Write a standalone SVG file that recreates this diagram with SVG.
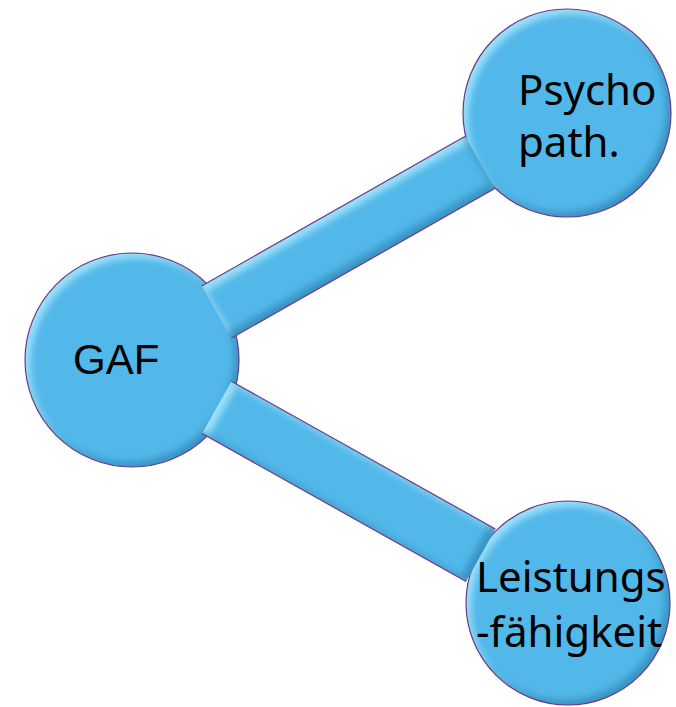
<svg xmlns="http://www.w3.org/2000/svg" width="676" height="707" viewBox="0 0 676 707">
  <style>
    .ball { fill: #52b8ea; filter: url(#bevel); }
    .rim { fill: none; stroke: #6b3a8c; stroke-width: 1.2; }
    .lbl { fill: #000000; font-family: "Noto Sans", "Open Sans", sans-serif; font-size: 42px; }
    .lbl-gaf { fill: #000000; font-family: "Liberation Sans", Arial, sans-serif; font-size: 42px; }
  </style>
  <defs>
    <!-- soft bevel: light inner rim top-left, darker inner rim bottom-right -->
    <filter id="bevel" x="-10%" y="-10%" width="120%" height="120%" color-interpolation-filters="sRGB">
      <feGaussianBlur in="SourceAlpha" stdDeviation="3.5" result="blur"/>
      <feOffset in="blur" dx="5" dy="5" result="shiftDown"/>
      <feComposite in="SourceAlpha" in2="shiftDown" operator="out" result="rimTL"/>
      <feFlood flood-color="#b8f0ff" flood-opacity="0.75"/>
      <feComposite in2="rimTL" operator="in" result="hl"/>
      <feOffset in="blur" dx="-5" dy="-5" result="shiftUp"/>
      <feComposite in="SourceAlpha" in2="shiftUp" operator="out" result="rimBR"/>
      <feFlood flood-color="#1f6d9c" flood-opacity="0.5"/>
      <feComposite in2="rimBR" operator="in" result="sh"/>
      <feMerge>
        <feMergeNode in="SourceGraphic"/>
        <feMergeNode in="hl"/>
        <feMergeNode in="sh"/>
      </feMerge>
    </filter>
  </defs>

  <!-- nodes -->
  <g id="node-gaf">
    <circle class="ball" cx="132" cy="360" r="107"/>
    <circle class="rim" cx="132" cy="360" r="107"/>
  </g>
  <g id="node-psycho">
    <circle class="ball" cx="567" cy="113" r="104"/>
    <circle class="rim" cx="567" cy="113" r="104"/>
  </g>
  <g id="node-leistung">
    <circle class="ball" cx="568" cy="603" r="102"/>
    <circle class="rim" cx="568" cy="603" r="102"/>
  </g>

  <!-- connectors (thick bars laid over the circles; outline on the long sides only) -->
  <g id="connectors">
    <polygon class="ball" points="201.6,286 465.2,136.3 494.8,188.5 231.2,338.2"/>
    <path class="rim" d="M201.6,286 L465.2,136.3 M494.8,188.5 L231.2,338.2"/>
    <polygon class="ball" points="231.4,381.2 495.4,529 466.1,581.4 202.1,433.6"/>
    <path class="rim" d="M231.4,381.2 L495.4,529 M466.1,581.4 L202.1,433.6"/>
  </g>

  <!-- labels -->
  <g id="labels">
    <text class="lbl-gaf" x="73" y="374">GAF</text>
    <text class="lbl" x="518" y="105">Psycho</text>
    <text class="lbl" x="518" y="157">path.</text>
    <text class="lbl" x="476" y="592" font-size="41">Leistungs</text>
    <text class="lbl" x="476" y="647" font-size="41">-fähigkeit</text>
  </g>
</svg>
